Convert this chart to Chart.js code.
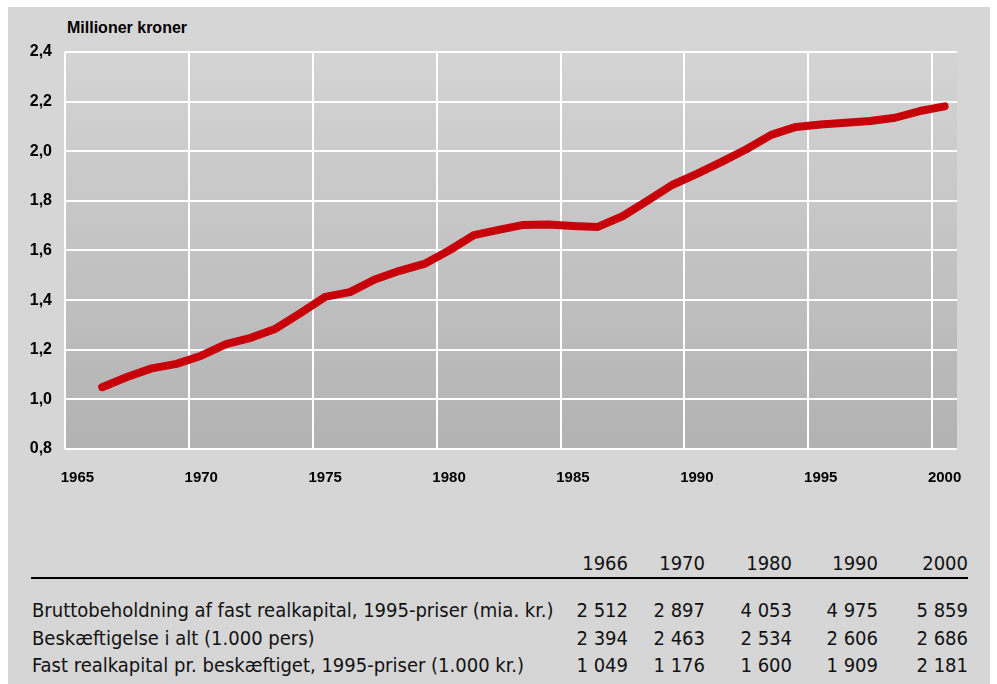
<!DOCTYPE html>
<html lang="da">
<head>
<meta charset="utf-8">
<title>Fast realkapital pr. beskæftiget</title>
<script src="https://cdn.jsdelivr.net/npm/chart.js@4/dist/chart.umd.min.js"></script>
<style>
    html, body { margin: 0; padding: 0; background: #fff; }
    body { width: 997px; height: 684px; position: relative; overflow: hidden; }
    #frame { position: absolute; left: 8px; top: 7px; width: 982px; height: 677px; background: #d6d6d6; }
    #chart { position: absolute; left: 0; top: 0; }
    #unit { position: absolute; left: 67px; top: 19px; font: bold 16px "Liberation Sans", Arial, sans-serif; line-height: 18px; color: #000; }
    .tbl { position: absolute; font-family: "Liberation Sans Narrow", "DejaVu Sans Condensed", sans-serif; font-size: 20px; line-height: 27px; color: #111; white-space: nowrap; }
    .num { text-align: right; }
    #rule { position: absolute; left: 31px; width: 937px; top: 577px; height: 2px; background: #000; }
</style>
</head>
<body>
<div id="frame"></div>
<div id="unit">Millioner kroner</div>
<canvas id="chart" width="997" height="500"></canvas>
<div id="rule"></div>
<div id="table"></div>

<script>
// Axis categories (one band per year)
const axisYears = [];
for (let y = 1965; y <= 2000; y++) axisYears.push(String(y));

// Fast realkapital pr. beskæftiget, mio. kr.
const seriesYears = [1966, 1967, 1968, 1969, 1970, 1971, 1972, 1973, 1974, 1975,
                     1976, 1977, 1978, 1979, 1980, 1981, 1982, 1983, 1984, 1985,
                     1986, 1987, 1988, 1989, 1990, 1991, 1992, 1993, 1994, 1995,
                     1996, 1997, 1998, 1999, 2000];
const capitalPerWorker = [1.049, 1.090, 1.125, 1.143, 1.176, 1.223, 1.248, 1.285, 1.348, 1.413,
                          1.432, 1.483, 1.518, 1.546, 1.600, 1.662, 1.683, 1.703, 1.705, 1.699,
                          1.695, 1.738, 1.800, 1.864, 1.909, 1.957, 2.008, 2.066, 2.098, 2.108,
                          2.115, 2.122, 2.135, 2.162, 2.181];

const yMin = 0.8;
const yMax = 2.4;
const yStep = 0.2;

// Table below the chart
const tableYears = ['1966', '1970', '1980', '1990', '2000'];
const tableLabels = [
    'Bruttobeholdning af fast realkapital, 1995-priser (mia. kr.)',
    'Beskæftigelse i alt (1.000 pers)',
    'Fast realkapital pr. beskæftiget, 1995-priser (1.000 kr.)'
];
const grossStock = ['2 512', '2 897', '4 053', '4 975', '5 859'];
const employment = ['2 394', '2 463', '2 534', '2 606', '2 686'];
const perWorker = ['1 049', '1 176', '1 600', '1 909', '2 181'];

// Plot area gradient
const plotBackground = {
    id: 'plotBackground',
    beforeDraw: function(chart) {
        const area = chart.chartArea;
        const ctx = chart.ctx;
        const grad = ctx.createLinearGradient(0, area.top, 0, area.bottom);
        grad.addColorStop(0, '#d4d4d4');
        grad.addColorStop(1, '#b2b2b2');
        ctx.save();
        ctx.fillStyle = grad;
        ctx.fillRect(area.left, area.top, area.right - area.left, area.bottom - area.top);
        ctx.restore();
    }
};

const xTickFont = { family: '"Liberation Sans", Arial, sans-serif', size: 15, weight: 'bold' };
const yTickFont = { family: '"Liberation Sans", Arial, sans-serif', size: 16, weight: 'bold' };

new Chart(document.getElementById('chart').getContext('2d'), {
    type: 'line',
    data: {
        labels: axisYears,
        datasets: [{
            data: seriesYears.map(function(y, i) { return { x: String(y), y: capitalPerWorker[i] }; }),
            borderColor: '#c8000a',
            borderWidth: 8,
            borderCapStyle: 'round',
            borderJoinStyle: 'round',
            pointRadius: 0,
            tension: 0,
            fill: false
        }]
    },
    options: {
        responsive: false,
        animation: false,
        layout: { padding: { left: 0, right: 40, top: 52, bottom: 11 } },
        plugins: {
            legend: { display: false },
            tooltip: { enabled: false }
        },
        scales: {
            x: {
                type: 'category',
                offset: true,
                border: { display: false },
                grid: {
                    offset: true,
                    drawTicks: false,
                    lineWidth: 2,
                    color: function(c) {
                        const label = axisYears[c.index];
                        return (label !== undefined && Number(label) % 5 === 0) ? '#ffffff' : 'rgba(0,0,0,0)';
                    }
                },
                ticks: {
                    autoSkip: false,
                    maxRotation: 0,
                    padding: 20,
                    color: '#000',
                    font: xTickFont,
                    callback: function(value) {
                        const label = this.getLabelForValue(value);
                        return Number(label) % 5 === 0 ? label : '';
                    }
                },
                afterFit: function(scale) { scale.height = 40; }
            },
            y: {
                min: yMin,
                max: yMax,
                border: { display: false },
                grid: { color: '#ffffff', lineWidth: 2, drawTicks: false },
                ticks: {
                    stepSize: yStep,
                    padding: 13,
                    color: '#000',
                    font: yTickFont,
                    callback: function(value) { return value.toFixed(1).replace('.', ','); }
                },
                afterFit: function(scale) { scale.width = 65; }
            }
        }
    },
    plugins: [plotBackground]
});

// Build the table as real text
(function buildTable() {
    const table = document.getElementById('table');
    const colRight = [628, 705, 792, 878, 968];
    const rowCenters = [610, 638, 665];
    const rows = [grossStock, employment, perWorker];

    function addCell(text, left, right, centerY, isNum) {
        const el = document.createElement('div');
        el.className = 'tbl' + (isNum ? ' num' : '');
        el.textContent = text;
        el.style.top = (centerY - 13.5) + 'px';
        if (isNum) {
            el.style.left = (right - 80) + 'px';
            el.style.width = '80px';
        } else {
            el.style.left = left + 'px';
        }
        table.appendChild(el);
    }

    tableYears.forEach(function(y, i) { addCell(y, 0, colRight[i], 563, true); });
    tableLabels.forEach(function(label, r) {
        addCell(label, 32, 0, rowCenters[r], false);
        rows[r].forEach(function(v, i) { addCell(v, 0, colRight[i], rowCenters[r], true); });
    });
})();
</script>
</body>
</html>
